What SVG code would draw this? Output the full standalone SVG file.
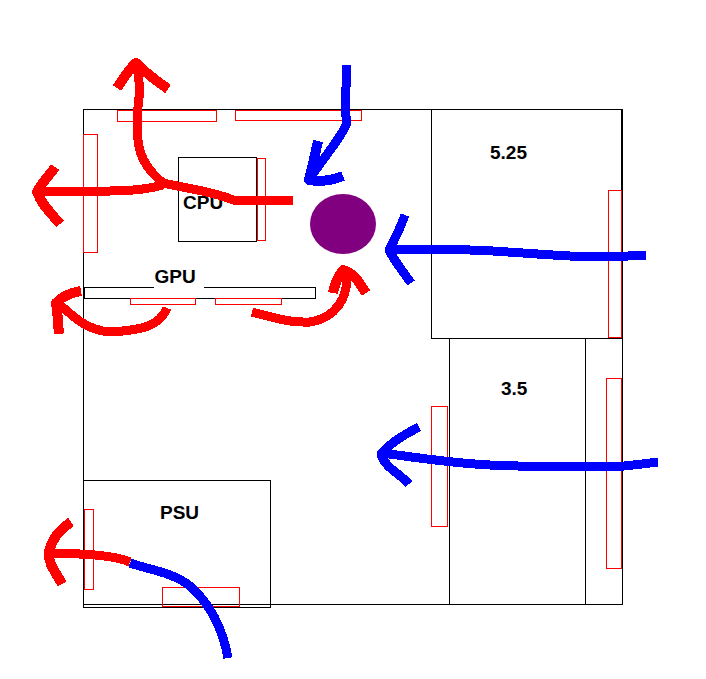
<svg xmlns="http://www.w3.org/2000/svg" width="706" height="679" viewBox="0 0 706 679">
<style>
.k{fill:none;stroke:#000;stroke-width:1;shape-rendering:crispEdges}
.r{fill:none;stroke:#f00;stroke-width:1;shape-rendering:crispEdges}
.t{font-family:"Liberation Sans",Arial,sans-serif;font-weight:bold;font-size:19px;fill:#000}
.fr,.fb{fill:none;stroke-width:9;stroke-linecap:butt;stroke-linejoin:round;shape-rendering:crispEdges}
.h{stroke-width:10}
.fr{stroke:#f00}.fb{stroke:#00f}
</style>
<rect width="706" height="679" fill="#fff"/>
<g id="case">
<rect class="k" x="83.5" y="109.5" width="539" height="494.5"/>
<rect class="r" x="117.5" y="110.5" width="99" height="11"/>
<rect class="r" x="235.5" y="110.5" width="126" height="10"/>
<rect class="r" x="83.5" y="134.5" width="14" height="118"/>
</g>
<g id="cpu">
<rect class="k" x="178.5" y="157.5" width="78" height="84"/>
<rect class="r" x="257.5" y="158.5" width="8" height="82"/>
<text class="t" x="183" y="209">CPU</text>
</g>
<g id="gpu">
<path class="k" d="M154 287.5H84.5V298.5H315.5V287.5H204"/>
<rect class="r" x="130.5" y="298.5" width="65" height="6"/>
<rect class="r" x="215.5" y="298.5" width="66" height="6"/>
<text class="t" x="154.500" y="283">GPU</text>
</g>
<g id="drive525">
<rect class="k" x="431.500" y="109.500" width="190" height="229"/>
<rect class="r" x="608.500" y="190.500" width="13" height="147"/>
<text class="t" x="490" y="159">5.25</text>
</g>
<g id="drive35">
<path class="k" d="M449.500 338V604M585.500 338V604"/>
<rect class="r" x="431.500" y="406.500" width="16" height="120"/>
<rect class="r" x="606.500" y="378.500" width="15" height="190"/>
<text class="t" x="501" y="395">3.5</text>
</g>
<g id="psu">
<rect class="k" x="83.500" y="480.500" width="187" height="126.500"/>
<rect class="r" x="84.500" y="509.500" width="9" height="80"/>
<rect class="r" x="162.500" y="587.500" width="77" height="19"/>
<text class="t" x="160" y="519">PSU</text>
</g>
<g id="fan">
<ellipse cx="343" cy="224" rx="33" ry="30" fill="#800080"/>
</g>
<g id="connectors">
<path class="fb" d="M228 658C222 625 208 602 190 586C172 572 150 570 130 563"/>
<path class="fr" d="M130 562C115 556 95 554 50 553"/>
<path class="fr h" d="M71 522C62 528 52 538 49 552C48 565 56 572 62 584"/>
<path class="fr" d="M293 200H233C215 192 190 189 163 183C150 172 140 160 138 140C136 120 138 105 140 90L137 66"/>
<path class="fr h" d="M117 88C124 78 128 70 136 63C145 72 155 80 168 89"/>
<path class="fr" d="M163 185C145 190 130 191 110 191H37"/>
<path class="fr h" d="M55 167C50 175 42 182 37 192C42 205 50 212 60 224"/>
<path class="fr" d="M167 308C160 325 145 330 110 332C85 330 72 315 58 303"/>
<path class="fr h" d="M81 291C70 293 62 296 56 303C58 315 58 325 59 334"/>
<path class="fr" d="M252 312C275 318 290 323 310 322C335 318 350 298 346 270"/>
<path class="fr h" d="M333 293C335 282 340 274 343 270C352 272 358 280 366 293"/>
<path class="fb" d="M347 65L345 110L347 123C340 140 325 155 309 180"/>
<path class="fb h" d="M318 141C315 155 312 168 309 180C320 182 330 181 343 176"/>
<path class="fb" d="M646 255C630 256 620 257 593 257C560 256 540 254 493 251C460 249 430 249 389 249"/>
<path class="fb" d="M405 215C400 228 396 238 389 250C395 262 402 270 411 283"/>
<path class="fb" d="M658 462C640 464 630 467 600 467C570 467 533 467 490 465C450 463 420 458 382 453"/>
<path class="fb" d="M419 427C405 434 390 443 381 454C385 468 398 472 409 484"/>
</g>
</svg>
